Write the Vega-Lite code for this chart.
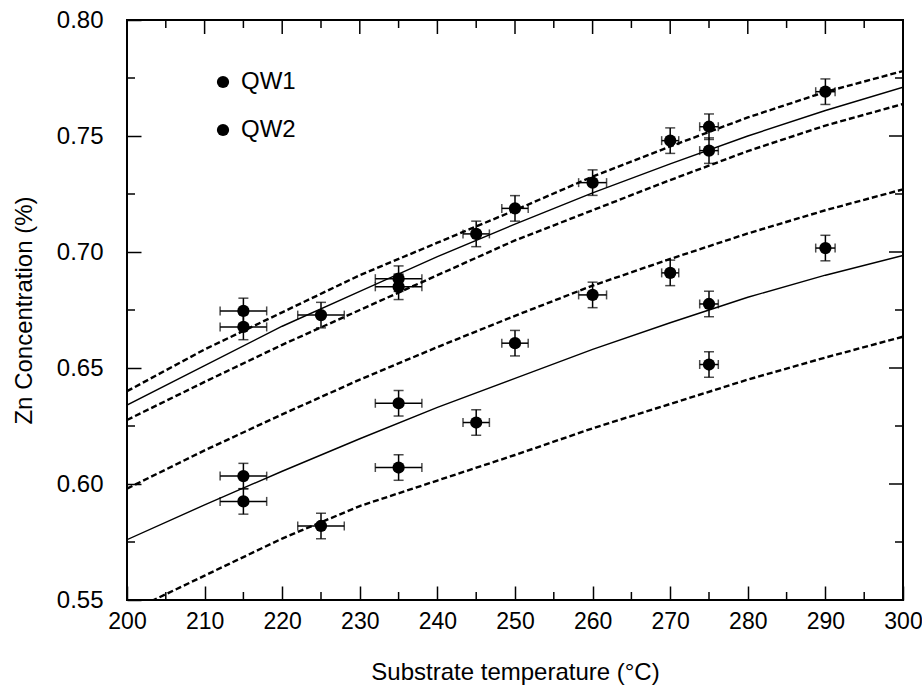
{
  "$schema": "https://vega.github.io/schema/vega-lite/v6.json",
  "width": 776,
  "height": 580,
  "autosize": "none",
  "padding": {"left": 127, "top": 20, "right": 19, "bottom": 87},
  "background": "white",
  "config": {
    "view": {"stroke": "black", "strokeWidth": 2, "fill": null},
    "axis": {
      "grid": false, "domain": false, "labelFlush": false,
      "labelFont": "Liberation Sans", "labelFontSize": 24, "labelColor": "black",
      "titleFont": "Liberation Sans", "titleFontSize": 24, "titleFontWeight": "normal", "titleColor": "black",
      "tickColor": "black", "tickWidth": 1.5, "tickOpacity": 1, "zindex": 2
    },
    "legend": {"labelFont": "Liberation Sans", "labelFontSize": 24, "labelColor": "black"}
  },
  "datasets": {
    "xticks": [
      {"v": 200, "k": "major"}, {"v": 210, "k": "major"}, {"v": 220, "k": "major"}, {"v": 230, "k": "major"},
      {"v": 240, "k": "major"}, {"v": 250, "k": "major"}, {"v": 260, "k": "major"}, {"v": 270, "k": "major"},
      {"v": 280, "k": "major"}, {"v": 290, "k": "major"}, {"v": 300, "k": "major"},
      {"v": 205, "k": "minor"}, {"v": 215, "k": "minor"}, {"v": 225, "k": "minor"}, {"v": 235, "k": "minor"},
      {"v": 245, "k": "minor"}, {"v": 255, "k": "minor"}, {"v": 265, "k": "minor"}, {"v": 275, "k": "minor"},
      {"v": 285, "k": "minor"}, {"v": 295, "k": "minor"}
    ],
    "yticks": [
      {"v": 0.55, "k": "major"}, {"v": 0.60, "k": "major"}, {"v": 0.65, "k": "major"},
      {"v": 0.70, "k": "major"}, {"v": 0.75, "k": "major"}, {"v": 0.80, "k": "major"},
      {"v": 0.575, "k": "minor"}, {"v": 0.625, "k": "minor"}, {"v": 0.675, "k": "minor"},
      {"v": 0.725, "k": "minor"}, {"v": 0.775, "k": "minor"}
    ],
    "curves": [
      {"curve": "U_fit", "kind": "fit", "t": 200, "c": 0.634},
      {"curve": "U_fit", "kind": "fit", "t": 210, "c": 0.651},
      {"curve": "U_fit", "kind": "fit", "t": 220, "c": 0.668},
      {"curve": "U_fit", "kind": "fit", "t": 230, "c": 0.683},
      {"curve": "U_fit", "kind": "fit", "t": 240, "c": 0.698},
      {"curve": "U_fit", "kind": "fit", "t": 250, "c": 0.712},
      {"curve": "U_fit", "kind": "fit", "t": 260, "c": 0.7255},
      {"curve": "U_fit", "kind": "fit", "t": 270, "c": 0.738},
      {"curve": "U_fit", "kind": "fit", "t": 280, "c": 0.750},
      {"curve": "U_fit", "kind": "fit", "t": 290, "c": 0.761},
      {"curve": "U_fit", "kind": "fit", "t": 300, "c": 0.771},
      {"curve": "L_fit", "kind": "fit", "t": 200, "c": 0.576},
      {"curve": "L_fit", "kind": "fit", "t": 210, "c": 0.591},
      {"curve": "L_fit", "kind": "fit", "t": 220, "c": 0.6055},
      {"curve": "L_fit", "kind": "fit", "t": 230, "c": 0.6195},
      {"curve": "L_fit", "kind": "fit", "t": 240, "c": 0.633},
      {"curve": "L_fit", "kind": "fit", "t": 250, "c": 0.6455},
      {"curve": "L_fit", "kind": "fit", "t": 260, "c": 0.658},
      {"curve": "L_fit", "kind": "fit", "t": 270, "c": 0.6695},
      {"curve": "L_fit", "kind": "fit", "t": 280, "c": 0.6805},
      {"curve": "L_fit", "kind": "fit", "t": 290, "c": 0.690},
      {"curve": "L_fit", "kind": "fit", "t": 300, "c": 0.6985},
      {"curve": "U_hi", "kind": "bound", "t": 200, "c": 0.640},
      {"curve": "U_hi", "kind": "bound", "t": 210, "c": 0.658},
      {"curve": "U_hi", "kind": "bound", "t": 220, "c": 0.674},
      {"curve": "U_hi", "kind": "bound", "t": 230, "c": 0.690},
      {"curve": "U_hi", "kind": "bound", "t": 240, "c": 0.704},
      {"curve": "U_hi", "kind": "bound", "t": 250, "c": 0.718},
      {"curve": "U_hi", "kind": "bound", "t": 260, "c": 0.7325},
      {"curve": "U_hi", "kind": "bound", "t": 270, "c": 0.7455},
      {"curve": "U_hi", "kind": "bound", "t": 280, "c": 0.758},
      {"curve": "U_hi", "kind": "bound", "t": 290, "c": 0.769},
      {"curve": "U_hi", "kind": "bound", "t": 300, "c": 0.778},
      {"curve": "U_lo", "kind": "bound", "t": 200, "c": 0.6276},
      {"curve": "U_lo", "kind": "bound", "t": 210, "c": 0.644},
      {"curve": "U_lo", "kind": "bound", "t": 220, "c": 0.660},
      {"curve": "U_lo", "kind": "bound", "t": 230, "c": 0.675},
      {"curve": "U_lo", "kind": "bound", "t": 240, "c": 0.690},
      {"curve": "U_lo", "kind": "bound", "t": 250, "c": 0.705},
      {"curve": "U_lo", "kind": "bound", "t": 260, "c": 0.718},
      {"curve": "U_lo", "kind": "bound", "t": 270, "c": 0.731},
      {"curve": "U_lo", "kind": "bound", "t": 280, "c": 0.7435},
      {"curve": "U_lo", "kind": "bound", "t": 290, "c": 0.7545},
      {"curve": "U_lo", "kind": "bound", "t": 300, "c": 0.7638},
      {"curve": "L_hi", "kind": "bound", "t": 200, "c": 0.598},
      {"curve": "L_hi", "kind": "bound", "t": 210, "c": 0.6145},
      {"curve": "L_hi", "kind": "bound", "t": 220, "c": 0.630},
      {"curve": "L_hi", "kind": "bound", "t": 230, "c": 0.645},
      {"curve": "L_hi", "kind": "bound", "t": 240, "c": 0.659},
      {"curve": "L_hi", "kind": "bound", "t": 250, "c": 0.6725},
      {"curve": "L_hi", "kind": "bound", "t": 260, "c": 0.6855},
      {"curve": "L_hi", "kind": "bound", "t": 270, "c": 0.697},
      {"curve": "L_hi", "kind": "bound", "t": 280, "c": 0.708},
      {"curve": "L_hi", "kind": "bound", "t": 290, "c": 0.718},
      {"curve": "L_hi", "kind": "bound", "t": 300, "c": 0.727},
      {"curve": "L_lo", "kind": "bound", "t": 200, "c": 0.5445},
      {"curve": "L_lo", "kind": "bound", "t": 210, "c": 0.5605},
      {"curve": "L_lo", "kind": "bound", "t": 220, "c": 0.5765},
      {"curve": "L_lo", "kind": "bound", "t": 230, "c": 0.5905},
      {"curve": "L_lo", "kind": "bound", "t": 240, "c": 0.6015},
      {"curve": "L_lo", "kind": "bound", "t": 250, "c": 0.6125},
      {"curve": "L_lo", "kind": "bound", "t": 260, "c": 0.624},
      {"curve": "L_lo", "kind": "bound", "t": 270, "c": 0.6345},
      {"curve": "L_lo", "kind": "bound", "t": 280, "c": 0.645},
      {"curve": "L_lo", "kind": "bound", "t": 290, "c": 0.6545},
      {"curve": "L_lo", "kind": "bound", "t": 300, "c": 0.6635}
    ],
    "points": [
      {"series": "QW1", "t": 215, "c": 0.6746, "tlo": 212, "thi": 218, "clo": 0.6691, "chi": 0.6801},
      {"series": "QW1", "t": 215, "c": 0.6677, "tlo": 212, "thi": 218, "clo": 0.6622, "chi": 0.6732},
      {"series": "QW1", "t": 225, "c": 0.6728, "tlo": 222, "thi": 228, "clo": 0.6673, "chi": 0.6783},
      {"series": "QW1", "t": 235, "c": 0.6885, "tlo": 232, "thi": 238, "clo": 0.6830, "chi": 0.6940},
      {"series": "QW1", "t": 235, "c": 0.6850, "tlo": 232, "thi": 238, "clo": 0.6795, "chi": 0.6905},
      {"series": "QW1", "t": 245, "c": 0.7078, "tlo": 243.3, "thi": 246.7, "clo": 0.7023, "chi": 0.7133},
      {"series": "QW1", "t": 250, "c": 0.7188, "tlo": 248.3, "thi": 251.7, "clo": 0.7133, "chi": 0.7243},
      {"series": "QW1", "t": 260, "c": 0.7299, "tlo": 258.2, "thi": 261.8, "clo": 0.7244, "chi": 0.7354},
      {"series": "QW1", "t": 270, "c": 0.7480, "tlo": 268.9, "thi": 271.1, "clo": 0.7425, "chi": 0.7535},
      {"series": "QW1", "t": 275, "c": 0.7540, "tlo": 273.8, "thi": 276.2, "clo": 0.7485, "chi": 0.7595},
      {"series": "QW1", "t": 275, "c": 0.7437, "tlo": 273.8, "thi": 276.2, "clo": 0.7382, "chi": 0.7492},
      {"series": "QW1", "t": 290, "c": 0.7691, "tlo": 288.75, "thi": 291.25, "clo": 0.7636, "chi": 0.7746},
      {"series": "QW2", "t": 215, "c": 0.6034, "tlo": 212, "thi": 218, "clo": 0.5979, "chi": 0.6089},
      {"series": "QW2", "t": 215, "c": 0.5925, "tlo": 212, "thi": 218, "clo": 0.5870, "chi": 0.5980},
      {"series": "QW2", "t": 225, "c": 0.5819, "tlo": 222, "thi": 228, "clo": 0.5764, "chi": 0.5874},
      {"series": "QW2", "t": 235, "c": 0.6348, "tlo": 232, "thi": 238, "clo": 0.6293, "chi": 0.6403},
      {"series": "QW2", "t": 235, "c": 0.6071, "tlo": 232, "thi": 238, "clo": 0.6016, "chi": 0.6126},
      {"series": "QW2", "t": 245, "c": 0.6265, "tlo": 243.3, "thi": 246.7, "clo": 0.6210, "chi": 0.6320},
      {"series": "QW2", "t": 250, "c": 0.6607, "tlo": 248.3, "thi": 251.7, "clo": 0.6552, "chi": 0.6662},
      {"series": "QW2", "t": 260, "c": 0.6815, "tlo": 258.2, "thi": 261.8, "clo": 0.6760, "chi": 0.6870},
      {"series": "QW2", "t": 270, "c": 0.6910, "tlo": 268.9, "thi": 271.1, "clo": 0.6855, "chi": 0.6965},
      {"series": "QW2", "t": 275, "c": 0.6776, "tlo": 273.8, "thi": 276.2, "clo": 0.6721, "chi": 0.6831},
      {"series": "QW2", "t": 275, "c": 0.6515, "tlo": 273.8, "thi": 276.2, "clo": 0.6460, "chi": 0.6570},
      {"series": "QW2", "t": 290, "c": 0.7017, "tlo": 288.75, "thi": 291.25, "clo": 0.6962, "chi": 0.7072}
    ]
  },
  "layer": [
    {
      "data": {"name": "curves"},
      "transform": [{"filter": "datum.kind === 'fit'"}],
      "mark": {"type": "line", "color": "black", "strokeWidth": 1.4, "clip": true},
      "encoding": {
        "x": {"field": "t", "type": "quantitative", "scale": {"domain": [200, 300], "nice": false, "zero": false},
          "axis": {"orient": "bottom", "values": [200, 210, 220, 230, 240, 250, 260, 270, 280, 290, 300], "format": "d", "offset": -14, "ticks": true, "tickSize": 14, "labelPadding": 10, "labelFontSize": 23, "title": "Substrate temperature (°C)", "titlePadding": 27, "zindex": 2}},
        "y": {"field": "c", "type": "quantitative", "scale": {"domain": [0.55, 0.80], "nice": false, "zero": false},
          "axis": {"orient": "left", "values": [0.55, 0.60, 0.65, 0.70, 0.75, 0.80], "format": ".2f", "offset": -14, "ticks": true, "tickSize": 14, "labelPadding": 24, "title": "Zn Concentration (%)", "titlePadding": 20, "zindex": 2}},
        "detail": {"field": "curve"}
      }
    },
    {
      "data": {"name": "curves"},
      "transform": [{"filter": "datum.kind === 'bound'"}],
      "mark": {"type": "line", "color": "black", "strokeWidth": 2.4, "strokeDash": [6, 3], "clip": true},
      "encoding": {
        "x": {"field": "t", "type": "quantitative"},
        "y": {"field": "c", "type": "quantitative"},
        "detail": {"field": "curve"}
      }
    },
    {
      "data": {"name": "xticks"},
      "transform": [{"filter": "datum.k === 'major'"}],
      "mark": {"type": "rule", "color": "black", "strokeWidth": 1.5, "y2Offset": 14},
      "encoding": {
        "x": {"field": "v", "type": "quantitative"},
        "y": {"datum": 0.80, "type": "quantitative"},
        "y2": {"datum": 0.80}
      }
    },
    {
      "data": {"name": "xticks"},
      "transform": [{"filter": "datum.k === 'minor'"}],
      "mark": {"type": "rule", "color": "black", "strokeWidth": 1.5, "y2Offset": -8},
      "encoding": {
        "x": {"field": "v", "type": "quantitative"},
        "y": {"datum": 0.55, "type": "quantitative"},
        "y2": {"datum": 0.55}
      }
    },
    {
      "data": {"name": "xticks"},
      "transform": [{"filter": "datum.k === 'minor'"}],
      "mark": {"type": "rule", "color": "black", "strokeWidth": 1.5, "y2Offset": 8},
      "encoding": {
        "x": {"field": "v", "type": "quantitative"},
        "y": {"datum": 0.80, "type": "quantitative"},
        "y2": {"datum": 0.80}
      }
    },
    {
      "data": {"name": "yticks"},
      "transform": [{"filter": "datum.k === 'major'"}],
      "mark": {"type": "rule", "color": "black", "strokeWidth": 1.5, "x2Offset": -14},
      "encoding": {
        "y": {"field": "v", "type": "quantitative"},
        "x": {"datum": 300, "type": "quantitative"},
        "x2": {"datum": 300}
      }
    },
    {
      "data": {"name": "yticks"},
      "transform": [{"filter": "datum.k === 'minor'"}],
      "mark": {"type": "rule", "color": "black", "strokeWidth": 1.5, "x2Offset": 8},
      "encoding": {
        "y": {"field": "v", "type": "quantitative"},
        "x": {"datum": 200, "type": "quantitative"},
        "x2": {"datum": 200}
      }
    },
    {
      "data": {"name": "yticks"},
      "transform": [{"filter": "datum.k === 'minor'"}],
      "mark": {"type": "rule", "color": "black", "strokeWidth": 1.5, "x2Offset": -8},
      "encoding": {
        "y": {"field": "v", "type": "quantitative"},
        "x": {"datum": 300, "type": "quantitative"},
        "x2": {"datum": 300}
      }
    },
    {
      "data": {"name": "points"},
      "mark": {"type": "rule", "color": "black", "strokeWidth": 1.5},
      "encoding": {
        "x": {"field": "tlo", "type": "quantitative"},
        "x2": {"field": "thi"},
        "y": {"field": "c", "type": "quantitative"}
      }
    },
    {
      "data": {"name": "points"},
      "mark": {"type": "rule", "color": "black", "strokeWidth": 1.5},
      "encoding": {
        "x": {"field": "t", "type": "quantitative"},
        "y": {"field": "clo", "type": "quantitative"},
        "y2": {"field": "chi"}
      }
    },
    {
      "data": {"name": "points"},
      "mark": {"type": "tick", "orient": "vertical", "color": "black", "size": 9, "thickness": 1.5},
      "encoding": {
        "x": {"field": "tlo", "type": "quantitative"},
        "y": {"field": "c", "type": "quantitative"}
      }
    },
    {
      "data": {"name": "points"},
      "mark": {"type": "tick", "orient": "vertical", "color": "black", "size": 9, "thickness": 1.5},
      "encoding": {
        "x": {"field": "thi", "type": "quantitative"},
        "y": {"field": "c", "type": "quantitative"}
      }
    },
    {
      "data": {"name": "points"},
      "mark": {"type": "tick", "orient": "horizontal", "color": "black", "size": 10, "thickness": 1.5},
      "encoding": {
        "x": {"field": "t", "type": "quantitative"},
        "y": {"field": "clo", "type": "quantitative"}
      }
    },
    {
      "data": {"name": "points"},
      "mark": {"type": "tick", "orient": "horizontal", "color": "black", "size": 10, "thickness": 1.5},
      "encoding": {
        "x": {"field": "t", "type": "quantitative"},
        "y": {"field": "chi", "type": "quantitative"}
      }
    },
    {
      "data": {"name": "points"},
      "mark": {"type": "point", "filled": true, "size": 150, "opacity": 1, "shape": "circle"},
      "encoding": {
        "x": {"field": "t", "type": "quantitative"},
        "y": {"field": "c", "type": "quantitative"},
        "color": {"field": "series", "type": "nominal",
          "scale": {"domain": ["QW1", "QW2"], "range": ["black", "black"]},
          "legend": {"orient": "none", "legendX": 84, "legendY": 50, "title": null, "symbolType": "circle", "symbolSize": 150, "symbolOpacity": 1, "symbolStrokeWidth": 0, "labelOffset": 6, "rowPadding": 24, "padding": 0, "direction": "vertical"}}
      }
    }
  ]
}
